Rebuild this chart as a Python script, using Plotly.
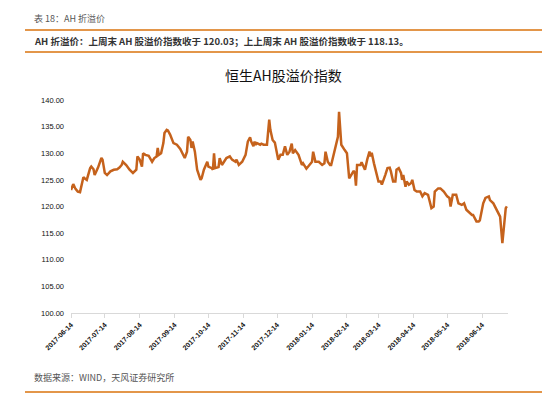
import plotly.graph_objects as go

dates = [
    "2017-06-14", "2017-06-16", "2017-06-18", "2017-06-20", "2017-06-22", "2017-06-24", "2017-06-25", "2017-06-26",
    "2017-06-28", "2017-07-01", "2017-07-02", "2017-07-04", "2017-07-05", "2017-07-08", "2017-07-10", "2017-07-11",
    "2017-07-12", "2017-07-14", "2017-07-16", "2017-07-19", "2017-07-22", "2017-07-25", "2017-07-27", "2017-07-29",
    "2017-07-30", "2017-08-01", "2017-08-02", "2017-08-05", "2017-08-08", "2017-08-11", "2017-08-12", "2017-08-14",
    "2017-08-16", "2017-08-17", "2017-08-19", "2017-08-22", "2017-08-25", "2017-08-27", "2017-08-29", "2017-08-30",
    "2017-08-31", "2017-09-02", "2017-09-04", "2017-09-05", "2017-09-07", "2017-09-08", "2017-09-10", "2017-09-13",
    "2017-09-16", "2017-09-19", "2017-09-22", "2017-09-23", "2017-09-25", "2017-09-26", "2017-09-28", "2017-09-29",
    "2017-09-30", "2017-10-02", "2017-10-04", "2017-10-07", "2017-10-08", "2017-10-10", "2017-10-13", "2017-10-14",
    "2017-10-17", "2017-10-18", "2017-10-19", "2017-10-20", "2017-10-23", "2017-10-24", "2017-10-26", "2017-10-27",
    "2017-10-30", "2017-11-02", "2017-11-04", "2017-11-07", "2017-11-08", "2017-11-10", "2017-11-13", "2017-11-16",
    "2017-11-17", "2017-11-18", "2017-11-20", "2017-11-21", "2017-11-23", "2017-11-24", "2017-11-25", "2017-11-26",
    "2017-11-29", "2017-11-30", "2017-12-02", "2017-12-05", "2017-12-07", "2017-12-08", "2017-12-10", "2017-12-12",
    "2017-12-15", "2017-12-17", "2017-12-19", "2017-12-21", "2017-12-23", "2017-12-25", "2017-12-27", "2017-12-28",
    "2017-12-30", "2018-01-02", "2018-01-05", "2018-01-06", "2018-01-09", "2018-01-12", "2018-01-14", "2018-01-15",
    "2018-01-17", "2018-01-20", "2018-01-23", "2018-01-25", "2018-01-26", "2018-01-28", "2018-01-30", "2018-01-31",
    "2018-02-03", "2018-02-05", "2018-02-06", "2018-02-07", "2018-02-08", "2018-02-09", "2018-02-12", "2018-02-14",
    "2018-02-16", "2018-02-18", "2018-02-20", "2018-02-21", "2018-02-22", "2018-02-23", "2018-02-26", "2018-02-27",
    "2018-03-01", "2018-03-02", "2018-03-04", "2018-03-06", "2018-03-07", "2018-03-08", "2018-03-10", "2018-03-12",
    "2018-03-14", "2018-03-16", "2018-03-17", "2018-03-20", "2018-03-22", "2018-03-24", "2018-03-25", "2018-03-27",
    "2018-03-29", "2018-03-30", "2018-04-01", "2018-04-03", "2018-04-04", "2018-04-05", "2018-04-07", "2018-04-08",
    "2018-04-10", "2018-04-12", "2018-04-13", "2018-04-15", "2018-04-17", "2018-04-20", "2018-04-22", "2018-04-24",
    "2018-04-27", "2018-04-30", "2018-05-02", "2018-05-03", "2018-05-06", "2018-05-08", "2018-05-11", "2018-05-14",
    "2018-05-16", "2018-05-17", "2018-05-19", "2018-05-22", "2018-05-24", "2018-05-27", "2018-05-29", "2018-05-31",
    "2018-06-03", "2018-06-05", "2018-06-06", "2018-06-09", "2018-06-11", "2018-06-12", "2018-06-15", "2018-06-17",
    "2018-06-20", "2018-06-21", "2018-06-24", "2018-06-26", "2018-06-28", "2018-06-30", "2018-07-02", "2018-07-04",
    "2018-07-05", "2018-07-06",
]

values = [
    123.1, 124.2, 123.3, 122.8, 122.7, 124.4, 125.5, 125.3,
    125.0, 127.2, 127.5, 127.0, 125.9, 127.3, 128.8, 129.1,
    128.8, 126.3, 125.9, 126.6, 126.9, 127.0, 127.3, 127.8,
    128.4, 128.1, 127.8, 126.9, 126.3, 126.9, 129.4, 128.8,
    127.5, 130.0, 129.7, 129.5, 128.4, 129.1, 129.4, 131.0,
    129.7, 130.0, 131.9, 133.8, 134.4, 134.3, 133.5, 131.9,
    131.6, 130.8, 129.4, 129.1, 130.3, 133.1, 132.5, 131.0,
    132.2, 130.3, 126.9, 125.0, 125.3, 126.9, 128.4, 127.5,
    127.2, 126.9, 130.0, 127.2, 127.4, 129.1, 127.8, 128.1,
    129.1, 129.4, 128.8, 128.4, 128.8, 127.8, 128.4, 129.7,
    131.3, 132.2, 133.0, 132.2, 131.3, 132.2, 131.6, 131.9,
    131.6, 131.8, 131.6, 131.6, 136.3, 134.4, 132.5, 132.0,
    128.8, 129.7, 129.7, 131.3, 129.7, 130.3, 131.8, 130.0,
    130.6, 129.7, 127.8, 128.1, 127.1, 127.8, 128.4, 130.3,
    128.4, 128.4, 127.8, 128.1, 130.3, 128.4, 127.8, 127.8,
    130.3, 131.9, 133.1, 137.8, 135.0, 131.6, 130.6, 130.0,
    125.3, 125.9, 126.7, 126.3, 123.9, 127.8, 127.8, 128.3,
    127.5, 126.9, 128.8, 130.3, 129.4, 130.1, 128.1, 126.6,
    124.7, 124.7, 124.1, 125.9, 127.2, 127.3, 126.6, 124.7,
    124.7, 126.9, 127.2, 126.3, 125.0, 125.9, 123.7, 124.7,
    124.1, 124.4, 125.0, 123.1, 122.8, 122.8, 121.9, 122.5,
    122.2, 119.7, 120.0, 122.8, 123.4, 123.4, 122.8, 121.9,
    121.6, 120.0, 122.2, 122.2, 120.6, 120.3, 120.6, 119.4,
    118.7, 118.4, 118.4, 117.2, 117.2, 117.4, 120.6, 121.6,
    121.9, 121.2, 120.6, 119.7, 118.7, 118.1, 113.1, 117.5,
    119.7, 120.03,
]

tick_dates = [
    "2017-06-14", "2017-07-14", "2017-08-14", "2017-09-14", "2017-10-14", "2017-11-14", "2017-12-14",
    "2018-01-14", "2018-02-14", "2018-03-14", "2018-04-14", "2018-05-14", "2018-06-14",
]

caption = "表 18：AH 折溢价"
summary = "AH 折溢价：上周末 AH 股溢价指数收于 120.03；上上周末 AH 股溢价指数收于 118.13。"
chart_title = "恒生AH股溢价指数"
source = "数据来源：WIND，天风证券研究所"

# the page body adds an 8px margin; lay out in window pixels and compensate
OFF = 8
W, H = 550 - OFF, 394 - OFF
L, R, T, B = 71 - OFF, 42, 100 - OFF, 81
PW, PH = W - L - R, H - T - B


def px(x):
    return (x - OFF - L) / PW


def py(y):
    return (H - B - (y - OFF)) / PH


fig = go.Figure()
fig.add_trace(go.Scatter(
    x=dates, y=values, mode="lines",
    line=dict(color="#C5621C", width=2.5),
    hoverinfo="x+y", showlegend=False,
))

font_cjk = "Noto Sans CJK SC, Liberation Sans, sans-serif"
orange = "#E3964A"

shapes = []
for yy in (30, 52, 392):
    shapes.append(dict(type="line", xref="paper", yref="paper",
                       x0=px(25), x1=px(545), y0=py(yy), y1=py(yy),
                       line=dict(color=orange, width=2)))

annotations = [
    dict(text=caption, x=px(32), y=py(18), xref="paper", yref="paper",
         xanchor="left", yanchor="middle", showarrow=False,
         font=dict(family=font_cjk, size=9, color="#555555")),
    dict(text="<b>" + summary + "</b>", x=px(32), y=py(41), xref="paper", yref="paper",
         xanchor="left", yanchor="middle", showarrow=False,
         font=dict(family=font_cjk, size=9.5, color="#333333")),
    dict(text=chart_title, x=px(283), y=py(75), xref="paper", yref="paper",
         xanchor="center", yanchor="middle", showarrow=False,
         font=dict(family=font_cjk, size=14, color="#111111")),
    dict(text=source, x=px(32), y=py(377), xref="paper", yref="paper",
         xanchor="left", yanchor="middle", showarrow=False,
         font=dict(family=font_cjk, size=9, color="#555555")),
]

fig.update_layout(
    width=W, height=H,
    margin=dict(l=L, r=R, t=T, b=B, pad=0),
    paper_bgcolor="white", plot_bgcolor="white",
    shapes=shapes, annotations=annotations,
    xaxis=dict(
        type="date", range=["2017-06-14", "2018-07-07"],
        tickvals=tick_dates, ticktext=tick_dates,
        tickangle=-45, showgrid=False, zeroline=False,
        showline=True, linecolor="#D9D9D9", linewidth=1,
        ticks="outside", ticklen=4, tickcolor="#D9D9D9",
        tickfont=dict(family="Liberation Sans, sans-serif", size=7, color="#111111", weight="bold"),
    ),
    yaxis=dict(
        range=[100, 140], tickvals=[100, 105, 110, 115, 120, 125, 130, 135, 140],
        tickformat=".2f", showgrid=False, zeroline=False, showline=False,
        ticks="", ticklabelstandoff=6,
        tickfont=dict(family="Liberation Sans, sans-serif", size=7.5, color="#111111"),
    ),
)

fig.write_html("out.html")
